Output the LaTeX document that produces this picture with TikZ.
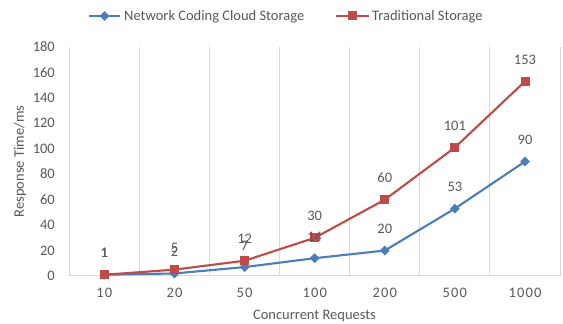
\documentclass[tikz,border=0pt]{standalone}
\usepackage{fontspec}
\setmainfont{Carlito}
\usetikzlibrary{shapes.geometric}
\definecolor{serblue}{HTML}{4A7EBB}
\definecolor{serred}{HTML}{BE4B48}
\definecolor{txtgray}{HTML}{595959}
\definecolor{gridgray}{HTML}{D9D9D9}
\begin{document}
\begin{tikzpicture}[x=1pt,y=1pt,
  lbl/.style={font=\fontsize{14.5}{16}\selectfont, text=txtgray, inner sep=0pt},
  xlbl/.style={lbl, font=\fontsize{14.5}{16}\selectfont\addfontfeature{LetterSpace=8}},
  bluemark/.style={diamond, fill=serblue, inner sep=0pt, minimum width=10pt, minimum height=10pt},
  redmark/.style={rectangle, fill=serred, inner sep=0pt, minimum size=9pt},
  blueline/.style={serblue, line width=2.1pt, line join=round},
  redline/.style={serred, line width=2.1pt, line join=round},
  gridline/.style={gridgray, line width=1pt},
]
\useasboundingbox (0,0) rectangle (563,324);
\fill[white] (0,0) rectangle (563,324);

% vertical category separators and the value axis baseline
\foreach \k in {0,...,7}
  \draw[gridline] ({69.3+70.1*\k},48) -- ({69.3+70.1*\k},277);
\draw[gridline] (69.3,48) -- (560,48);

% value axis ticks
\foreach \v in {0,20,...,180}
  \node[lbl, anchor=base east] (yt\v) at (55,{48+1.2722*\v-4.6}) {\v};

% category axis ticks
\foreach \c [count=\i from 0] in {10,20,50,100,200,500,1000}
  \node[xlbl, anchor=base] (xt\i) at ({104.4+70.1*\i},26.4) {\c};

% axis titles
\node[lbl, anchor=base] (xtitle) at (314.5,4.5) {Concurrent Requests};
\node[lbl, rotate=90] (ytitle) at (20,162.5) {Response Time/ms};

% data points
\foreach \b/\r [count=\i from 0] in {1/1,2/5,7/12,14/30,20/60,53/101,90/153} {
  \coordinate (b\i) at ({104.4+70.1*\i},{48+1.2722*\b});
  \coordinate (r\i) at ({104.4+70.1*\i},{48+1.2722*\r});
}

% network coding series
\draw[blueline] (b0) -- (b1) -- (b2) -- (b3) -- (b4) -- (b5) -- (b6);
\foreach \i in {0,...,6} \node[bluemark] (bm\i) at (b\i) {};

% traditional series
\draw[redline] (r0) -- (r1) -- (r2) -- (r3) -- (r4) -- (r5) -- (r6);
\foreach \i in {0,...,6} \node[redmark] (rm\i) at (r\i) {};

% data labels
\foreach \b/\r [count=\i from 0] in {1/1,2/5,7/12,14/30,20/60,53/101,90/153} {
  \node[lbl, anchor=base] (bl\i) at ([yshift=17pt]b\i) {\b};
  \node[lbl, anchor=base] (rl\i) at ([yshift=17pt]r\i) {\r};
}

% legend
\coordinate (lb1) at (89,308);
\coordinate (lb2) at (120,308);
\draw[blueline] (lb1) -- (lb2);
\node[bluemark] (lbm) at (104.5,308) {};
\node[lbl, anchor=base west] (lbt) at (124,303.4) {Network Coding Cloud Storage};
\coordinate (lr1) at (336,308);
\coordinate (lr2) at (369,308);
\draw[redline] (lr1) -- (lr2);
\node[redmark] (lrm) at (352.5,308) {};
\node[lbl, anchor=base west] (lrt) at (372,303.4) {Traditional Storage};
\end{tikzpicture}
\end{document}
